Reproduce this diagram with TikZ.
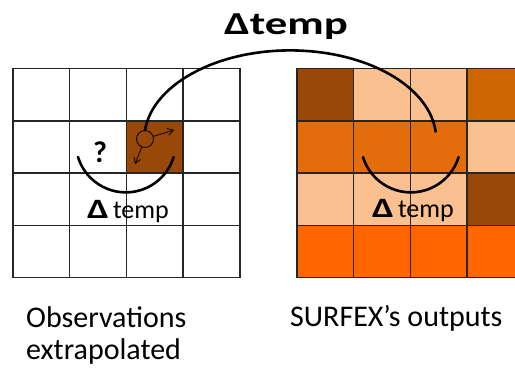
\documentclass[tikz,border=0pt]{standalone}
\usepackage{fontspec}
\setmainfont{Carlito}
\usepackage{graphicx}
\usepackage{xcolor}
\definecolor{obsBrown}{HTML}{984807}
\definecolor{sfxPeach}{HTML}{FAC090}
\definecolor{sfxOrange}{HTML}{E46C0A}
\definecolor{sfxRust}{HTML}{CC6600}
\definecolor{sfxBright}{HTML}{FF6600}
\usepackage{tikz}
\usetikzlibrary{arrows.meta}

\begin{document}
\begin{tikzpicture}[
  x=1pt,y=-1pt,
  cell/.style={draw=black!85,line width=1.4pt,minimum width=56.7pt,
               minimum height=52.3pt,inner sep=0pt},
  sweep/.style={line width=2.6pt,line cap=round},
  ptr/.style={-{Straight Barb[length=5.5pt,width=7pt]},line width=0.8pt},
  dlbl/.style={anchor=base west,inner sep=0pt,font=\fontsize{26}{28}\selectfont},
  gridcap/.style={anchor=base west,inner sep=0pt,font=\fontsize{30}{32}\selectfont}
]
\useasboundingbox (0,0) rectangle (515,370);

\foreach \rowcols [count=\r] in {{white,white,white,white},{white,white,obsBrown,white},
                                 {white,white,white,white},{white,white,white,white}}
  \foreach \col [count=\c] in \rowcols
    \node[cell,fill=\col] (obs-\r-\c) at ({13+56.7*(\c-0.5)},{68.5+52.3*(\r-0.5)}) {};

\foreach \rowcols [count=\r] in {{obsBrown,sfxPeach,sfxPeach,sfxRust},{sfxOrange,sfxOrange,sfxOrange,sfxPeach},
                                 {sfxPeach,sfxPeach,sfxPeach,obsBrown},{sfxBright,sfxBright,sfxBright,sfxBright}}
  \foreach \col [count=\c] in \rowcols
    \node[cell,fill=\col] (sfx-\r-\c) at ({297+56.7*(\c-0.5)},{68.5+52.3*(\r-0.5)}) {};

\node[draw,circle,minimum size=17pt,inner sep=0pt,line width=0.8pt] (probe) at (145,139) {};
\coordinate (warmA) at (174,130);
\coordinate (warmB) at (135,164);
\draw[ptr] (probe) -- (warmA);
\draw[ptr] (probe) -- (warmB);

\draw[sweep] (probe.north) arc[start angle=186,end angle=355,x radius=146,y radius=89];

\coordinate (obsArc) at (78,157);
\coordinate (sfxArc) at (363,157);
\draw[sweep] (obsArc) arc[start angle=163,end angle=17,radius=50];
\draw[sweep] (sfxArc) arc[start angle=163,end angle=17,radius=50];

\node[anchor=base,inner sep=0pt,font=\bfseries\fontsize{32}{34}\selectfont] (dtTop)
  at (286,34) {\scalebox{1.4}[1]{Δtemp}};
\node[dlbl] (dtObs) at (87,218)
  {\scalebox{1.35}[1]{\bfseries\fontsize{28}{30}\selectfont Δ}\hspace{4pt}temp};
\node[dlbl] (dtSfx) at (372,217)
  {\scalebox{1.35}[1]{\bfseries\fontsize{28}{30}\selectfont Δ}\hspace{4pt}temp};
\node[anchor=base west,inner sep=0pt,font=\bfseries\fontsize{30}{32}\selectfont] (unknown)
  at (93,162) {?};

\node[gridcap] (obsCap) at (26,327) {Observations};
\node[gridcap] (obsCap2) at (26,359) {extrapolated};
\node[gridcap] (sfxCap) at (290,326) {SURFEX’s outputs};
\end{tikzpicture}
\end{document}
